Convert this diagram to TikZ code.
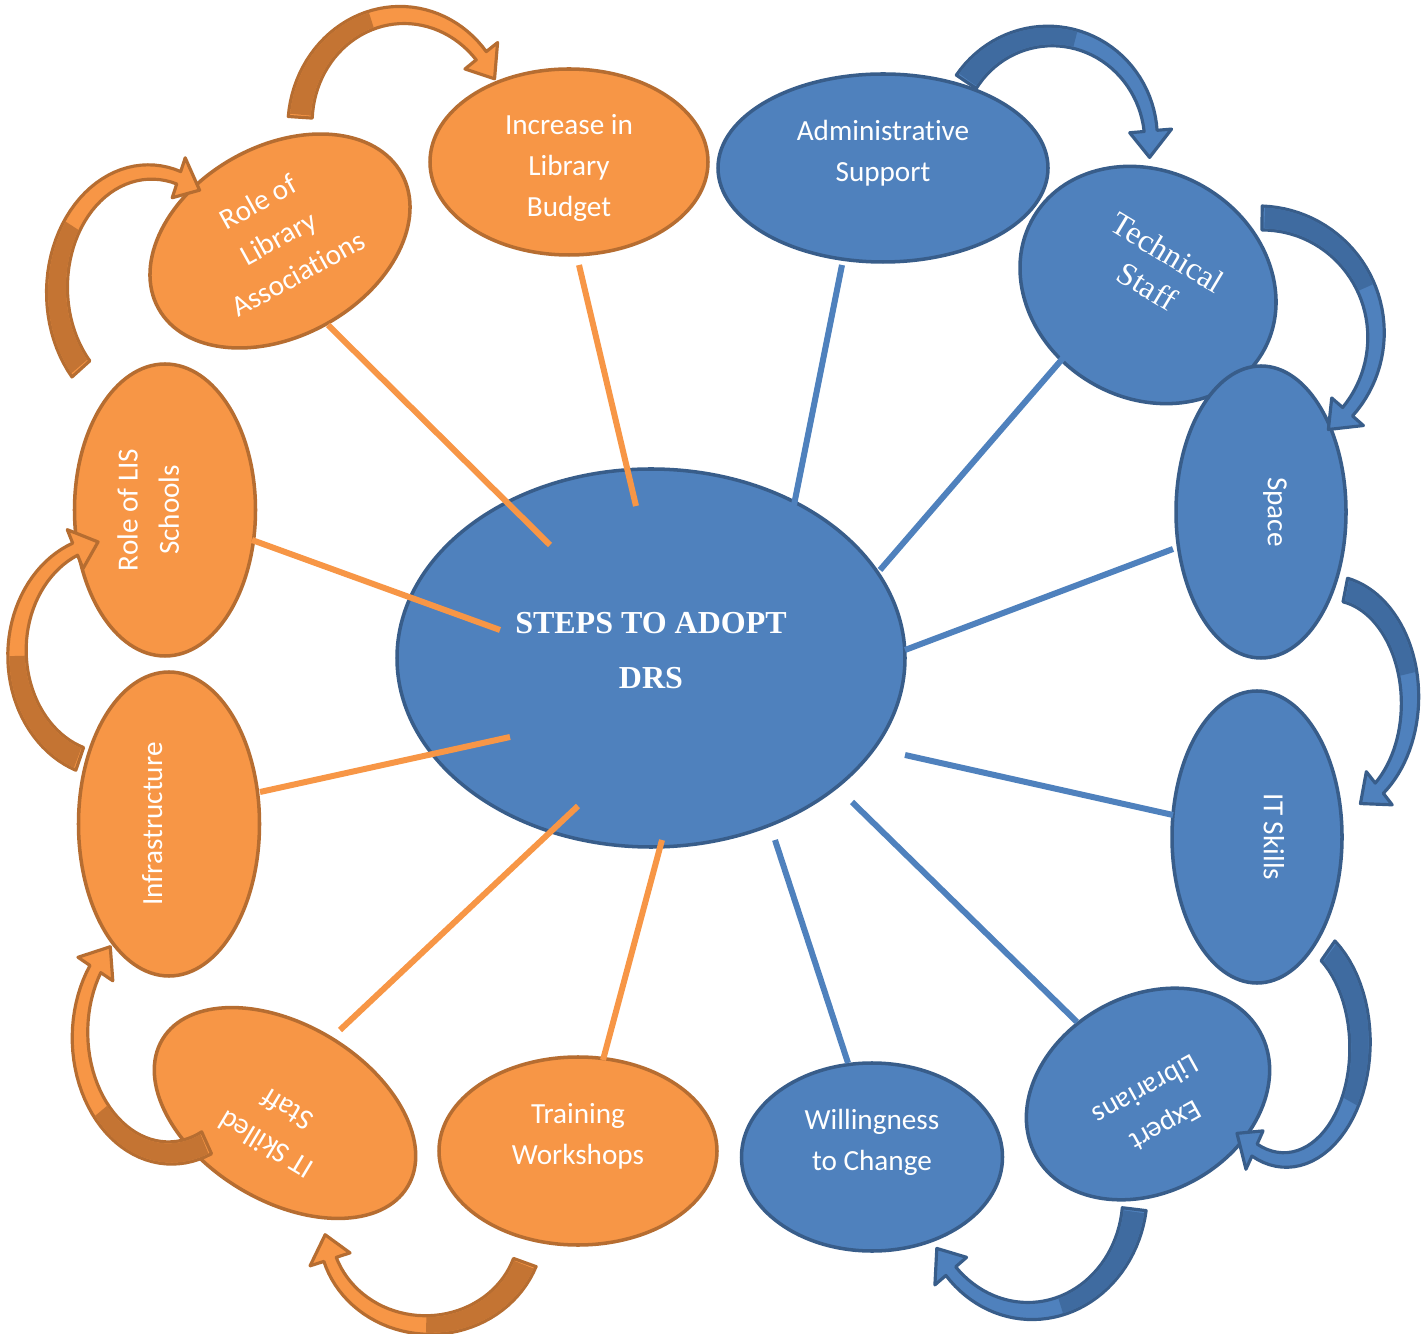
\documentclass[tikz,border=0pt]{standalone}
\usepackage{fontspec}
\setmainfont{Carlito}[Ligatures=NoCommon]
\newfontfamily\serifface{Liberation Serif}
\usetikzlibrary{shapes.geometric}

\definecolor{orangefill}{HTML}{F79646}
\definecolor{orangetail}{HTML}{C47433}
\definecolor{orangeline}{HTML}{B66D31}
\definecolor{bluefill}{HTML}{4F81BD}
\definecolor{bluetail}{HTML}{3F6BA0}
\definecolor{blueline}{HTML}{385D8A}

% text of a bubble, lifted a little in its own frame
\newcommand{\intext}[2][0.15cm]{\raisebox{#1}[\height][\depth]{\begin{tabular}{@{}c@{}}#2\end{tabular}}}

% curved ribbon arrow: centre x, centre y, radius x, radius y, tail angle, head angle, colour set
\newcommand{\bendarrow}[7]{%
  \pgfmathsetmacro{\tipangle}{#6+3000/(#3+#4)}%
  \filldraw[fill=#7fill, draw=#7line, line width=0.9pt, line join=round]
    plot[domain=0:1, samples=40] ({#1+(#3+12-5.5*\x)*cos(#5+(#6-#5)*\x)}, {#2+(#4+12-5.5*\x)*sin(#5+(#6-#5)*\x)})
    -- ({#1+(#3+21)*cos(#6)}, {#2+(#4+21)*sin(#6)})
    -- ({#1+#3*cos(\tipangle)}, {#2+#4*sin(\tipangle)})
    -- ({#1+(#3-21)*cos(#6)}, {#2+(#4-21)*sin(#6)})
    -- plot[domain=0:1, samples=40] ({#1+(#3-6.5-5.5*\x)*cos(#6+(#5-#6)*\x)}, {#2+(#4-6.5-5.5*\x)*sin(#6+(#5-#6)*\x)})
    -- cycle;
  \fill[#7tail]
    plot[domain=0.01:0.5, samples=20] ({#1+(#3+10.5-5.5*\x)*cos(#5+(#6-#5)*\x)}, {#2+(#4+10.5-5.5*\x)*sin(#5+(#6-#5)*\x)})
    -- plot[domain=0:0.49, samples=20] ({#1+(#3-7.75-5.5*\x)*cos(#5+(#6-#5)*(0.5-\x))}, {#2+(#4-7.75-5.5*\x)*sin(#5+(#6-#5)*(0.5-\x))})
    -- cycle;
}

\begin{document}
\begin{tikzpicture}[
    x=0.01cm, y=-0.01cm,
    bubble/.style={ellipse, line width=1pt, inner sep=0pt, text=white, font=\fontsize{8.3}{11.7}\selectfont},
    orangebubble/.style={bubble, fill=orangefill, draw=orangeline},
    bluebubble/.style={bubble, fill=bluefill, draw=blueline},
    wh/.style 2 args={minimum width=#1*0.01cm, minimum height=#2*0.01cm},
    orangelink/.style={draw=orangefill, line width=0.06cm},
    bluelink/.style={draw=bluefill, line width=0.06cm}
    ]
    \useasboundingbox (0,0) rectangle (1421,1334);

    % the hub
    \node[bluebubble, wh={508}{378}, font=\serifface\bfseries\fontsize{9.1}{15.6}\selectfont] (drs) at (651,658) {\intext[0.08cm]{STEPS TO ADOPT\\DRS}};

    % orange steps
    \node[orangebubble, wh={278}{190}, rotate=29] (assoc) at (280,241) {\intext[0.02cm]{Role of\\Library\\Associations}};
    \node[orangebubble, wh={278}{186}] (budget) at (569,162) {\intext[-0.05cm]{Increase in\\Library\\Budget}};
    \node[orangebubble, wh={292}{181}, rotate=90] (lis) at (165,510) {\intext{Role of LIS\\Schools}};
    \node[orangebubble, wh={304}{181}, rotate=90] (infra) at (169,824) {\intext{Infrastructure}};
    \node[orangebubble, wh={286}{176}, rotate=149] (itstaff) at (285,1113) {\intext{IT Skilled\\Staff}};
    \node[orangebubble, wh={278}{188}] (training) at (578,1151) {\intext{Training\\Workshops}};

    % blue steps
    \node[bluebubble, wh={330}{188}] (admin) at (883,168) {\intext{Administrative\\Support}};
    \node[bluebubble, wh={266}{226}, rotate=-31, font=\serifface\fontsize{9.2}{11.2}\selectfont] (tech) at (1148,285) {\intext{Technical\\Staff}};
    \node[bluebubble, wh={292}{170}, rotate=-90] (space) at (1261,512) {\intext{Space}};
    \node[bluebubble, wh={292}{170}, rotate=-90] (itskills) at (1257,837) {\intext{IT Skills}};
    \node[bluebubble, wh={256}{196}, rotate=209] (expert) at (1148,1094) {\intext{Expert\\Librarians}};
    \node[bluebubble, wh={261}{188}] (willing) at (872,1157) {\intext{Willingness\\to Change}};

    % spokes
    \draw[orangelink] ([shift={(48,84)}]assoc.center) -- ([shift={(-101,-113)}]drs.center);
    \draw[orangelink] ([shift={(10,103)}]budget.center) -- ([shift={(-15,-152)}]drs.center);
    \draw[orangelink] ([shift={(87,30)}]lis.center) -- ([shift={(-151,-28)}]drs.center);
    \draw[orangelink] ([shift={(91,-32)}]infra.center) -- ([shift={(-141,79)}]drs.center);
    \draw[orangelink] ([shift={(55,-83)}]itstaff.center) -- ([shift={(-73,148)}]drs.center);
    \draw[orangelink] ([shift={(25,-91)}]training.center) -- ([shift={(11,182)}]drs.center);
    \draw[bluelink] ([shift={(-41,97)}]admin.center) -- ([shift={(143,-153)}]drs.center);
    \draw[bluelink] ([shift={(-78,65)}]tech.center) -- ([shift={(229,-88)}]drs.center);
    \draw[bluelink] ([shift={(-88,37)}]space.center) -- ([shift={(254,-8)}]drs.center);
    \draw[bluelink] ([shift={(-84,-22)}]itskills.center) -- ([shift={(254,97)}]drs.center);
    \draw[bluelink] ([shift={(-71,-72)}]expert.center) -- ([shift={(201,144)}]drs.center);
    \draw[bluelink] ([shift={(-24,-94)}]willing.center) -- ([shift={(124,182)}]drs.center);

    % curved arrows round the ring
    \bendarrow{402}{125}{102}{110}{184}{321}{orange}
    \bendarrow{150}{290}{93}{118}{138}{288}{orange}
    \bendarrow{110}{653}{93}{112}{109}{248}{orange}
    \bendarrow{170}{1035}{90}{118}{66}{214}{orange}
    \bendarrow{428}{1230}{103}{95}{20}{162}{orange}
    \bendarrow{1050}{140}{101}{104}{214}{355}{blue}
    \bendarrow{1260}{335}{116}{117}{271}{401}{blue}
    \bendarrow{1330}{700}{80}{112}{281}{412}{blue}
    \bendarrow{1285}{1045}{75}{115}{305}{474}{blue}
    \bendarrow{1030}{1195}{105}{116}{7}{139}{blue}
\end{tikzpicture}
\end{document}
